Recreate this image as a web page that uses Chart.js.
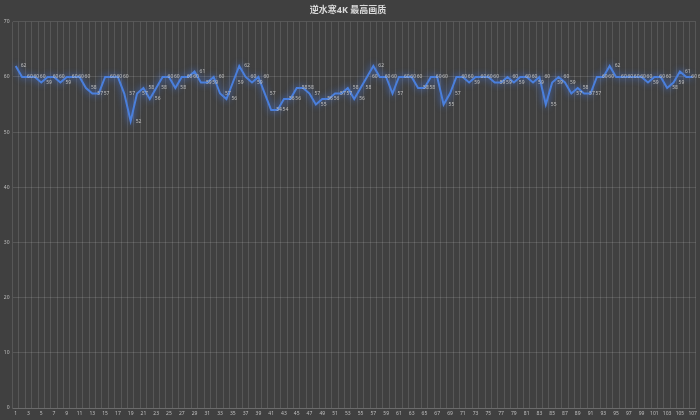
<!DOCTYPE html>
<html>
<head>
<meta charset="utf-8">
<script src="https://cdn.jsdelivr.net/npm/chart.js@4"></script>
<style>
  html, body { margin: 0; padding: 0; background: #404040; }
  #wrap { width: 700px; height: 420px; }
</style>
</head>
<body>
<div id="wrap"><canvas id="fpsChart"></canvas></div>
<script>
const chartTitle = '逆水寒4K 最高画质';

// sample index 1..107
const frames = [];
for (let i = 1; i <= 107; i++) frames.push(String(i));

// fps per sample
const fps = [
  62, 60, 60, 60, 59, 60, 60, 59, 60, 60,
  60, 58, 57, 57, 60, 60, 60, 57, 52, 57,
  58, 56, 58, 60, 60, 58, 60, 60, 61, 59,
  59, 60, 57, 56, 59, 62, 60, 59, 60, 57,
  54, 54, 56, 56, 58, 58, 57, 55, 56, 56,
  57, 57, 58, 56, 58, 60, 62, 60, 60, 57,
  60, 60, 60, 58, 58, 60, 60, 55, 57, 60,
  60, 59, 60, 60, 60, 59, 59, 60, 59, 60,
  60, 59, 60, 55, 59, 60, 59, 57, 58, 57,
  57, 60, 60, 62, 60, 60, 60, 60, 60, 59,
  60, 60, 58, 59, 61, 60, 60
];

const yTicks = [0, 10, 20, 30, 40, 50, 60, 70];

const FONT = "'Noto Sans', 'Noto Sans CJK SC', sans-serif";

// background, glow on the line, value labels next to each point
const extras = {
  id: 'extras',
  beforeDraw(chart) {
    const c = chart.ctx;
    c.save();
    c.fillStyle = '#404040';
    c.fillRect(0, 0, chart.width, chart.height);
    c.restore();
  },
  beforeDatasetDraw(chart) {
    const c = chart.ctx;
    c.save();
    c.shadowColor = 'rgba(70,130,255,0.9)';
    c.shadowBlur = 7;
  },
  afterDatasetDraw(chart) {
    chart.ctx.restore();
  },
  afterDatasetsDraw(chart) {
    const c = chart.ctx;
    const meta = chart.getDatasetMeta(0);
    c.save();
    c.font = '5px ' + FONT;
    c.fillStyle = '#bfbfbf';
    c.textAlign = 'left';
    c.textBaseline = 'middle';
    meta.data.forEach((pt, i) => {
      c.fillText(fps[i], pt.x + 5, pt.y);
    });
    c.restore();
  }
};

new Chart(document.getElementById('fpsChart'), {
  type: 'line',
  data: {
    labels: frames,
    datasets: [{
      data: fps,
      borderColor: '#4a7fdc',
      borderWidth: 2,
      pointRadius: 0,
      tension: 0,
      fill: false
    }]
  },
  options: {
    responsive: true,
    maintainAspectRatio: false,
    animation: false,
    layout: { padding: { left: 0, right: 4, top: 0, bottom: 0 } },
    plugins: {
      legend: { display: false },
      tooltip: { enabled: false },
      title: {
        display: true,
        text: chartTitle,
        color: '#d9d9d9',
        font: { family: FONT, size: 9, weight: 'bold' },
        padding: { top: 5, bottom: 6 }
      }
    },
    scales: {
      x: {
        offset: true,
        grid: { color: 'rgba(255,255,255,0.12)', offset: true, drawTicks: false },
        border: { color: 'rgba(255,255,255,0.12)' },
        ticks: {
          color: '#bfbfbf',
          font: { family: FONT, size: 5 },
          autoSkip: false,
          maxRotation: 0,
          padding: 3,
          callback: (v, i) => (i % 2 === 0 ? frames[i] : '')
        }
      },
      y: {
        min: 0,
        max: 70,
        afterFit: s => { s.width = 12.5; },
        afterBuildTicks: s => { s.ticks = yTicks.map(v => ({ value: v })); },
        grid: { color: 'rgba(255,255,255,0.12)', drawTicks: false },
        border: { display: false },
        ticks: {
          color: '#bfbfbf',
          font: { family: FONT, size: 5 },
          padding: 3
        }
      }
    }
  },
  plugins: [extras]
});
</script>
</body>
</html>
